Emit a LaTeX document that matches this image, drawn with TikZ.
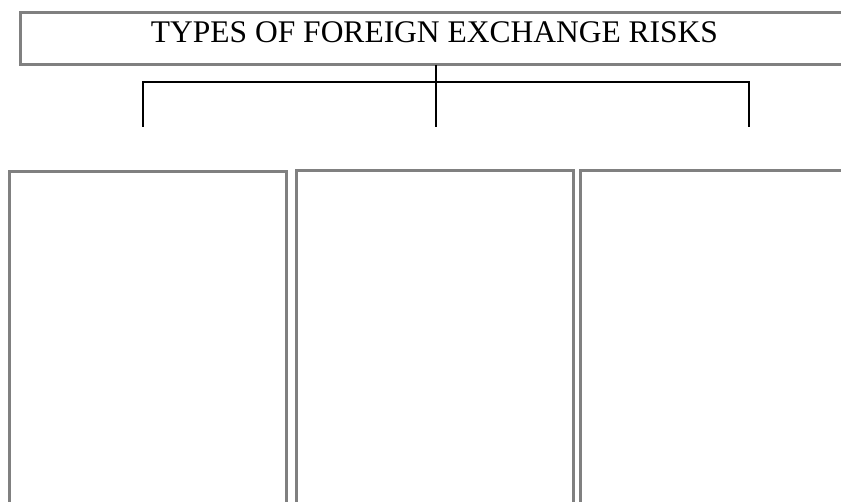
\documentclass[tikz,border=0pt]{standalone}
\usepackage{fontspec}
\setmainfont{Liberation Serif}
\begin{document}
\begin{tikzpicture}[x=1pt,y=-1pt,
  frame/.style={draw=black!50, line width=3pt, rectangle, inner sep=0pt, outer sep=0pt},
  branch/.style={draw=black, line width=1.3pt}]
\useasboundingbox (0,0) rectangle (841,502);
\clip (0,0) rectangle (841,502);
% title bar
\node[frame, minimum width=840pt, minimum height=52pt, anchor=north west] (titlebox) at (20,13) {};
\node[anchor=base, font=\fontsize{31.5}{36}\selectfont, inner sep=0pt] (titletext) at (434.5,43) {TYPES OF FOREIGN EXCHANGE RISKS};
% branching connector
\coordinate (hub) at (436,82);
\coordinate (leftdrop) at (143,127);
\coordinate (middrop) at (436,127);
\coordinate (rightdrop) at (749,127);
\draw[branch] (hub |- titlebox.south) -- (middrop);
\draw[branch] (leftdrop) -- (leftdrop |- hub) -- (rightdrop |- hub) -- (rightdrop);
% three empty panels
\node[frame, minimum width=277pt, minimum height=360pt, anchor=north west] (panelA) at (9,172) {};
\node[frame, minimum width=277pt, minimum height=360pt, anchor=north west] (panelB) at (296,171) {};
\node[frame, minimum width=300pt, minimum height=360pt, anchor=north west] (panelC) at (580,171) {};
\end{tikzpicture}
\end{document}
